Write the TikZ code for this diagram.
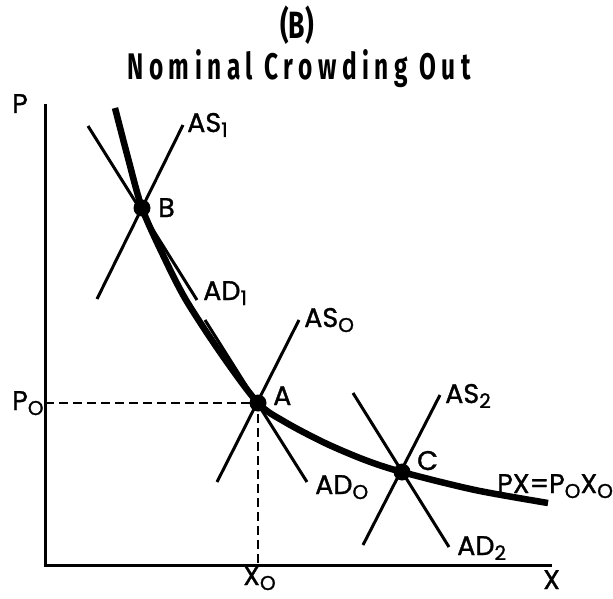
\documentclass[tikz,border=0pt]{standalone}
\usepackage{fontspec}
\setmainfont{Poppins}[FakeBold=1.2]
\newfontfamily\titlefont[FakeStretch=0.66,LetterSpace=15]{Fira Sans}
\newfontfamily\headfont[FakeStretch=0.7]{Fira Sans}
\newcommand\sbs[1]{\raisebox{-5pt}{\fontsize{20}{20}\selectfont #1}}
\begin{document}
\begin{tikzpicture}[x=1pt,y=-1pt,
  axisline/.style={line width=3pt},
  sched/.style={line width=3pt},
  pxcurve/.style={line width=6.5pt},
  guide/.style={line width=2.6pt, dash pattern=on 9pt off 5pt},
  dot/.style={circle, fill, inner sep=0pt, minimum size=17pt},
  lab/.style={anchor=base west, inner sep=0pt, font=\fontsize{27}{27}\selectfont},
  ttl/.style={anchor=base, inner sep=0pt, font=\titlefont\bfseries\fontsize{37}{37}\selectfont},
  hd/.style={anchor=base, inner sep=0pt, font=\headfont\bfseries\fontsize{38}{38}\selectfont}]
\useasboundingbox (0,0) rectangle (613,599);
% title
\node[hd] (t1) at (297,39) {(B)};
\node[ttl] (t2) at (299,80) {Nominal Crowding Out};
% axes
\coordinate (orig) at (45,565);
\coordinate (ytop) at (45,104);
\coordinate (xend) at (552,565);
\draw[axisline] (ytop) -- (orig) -- (xend);
% equilibrium points
\coordinate (B) at (142,208);
\coordinate (A) at (258,403);
\coordinate (C) at (402,472);
% schedule end points
\coordinate (as1a) at (97,299);  \coordinate (as1b) at (183,125);
\coordinate (ad1a) at (88,126);  \coordinate (ad1b) at (197,300);
\coordinate (as0a) at (217,482); \coordinate (as0b) at (299,320);
\coordinate (ad0a) at (205,320); \coordinate (ad0b) at (307,482);
\coordinate (as2a) at (363,545); \coordinate (as2b) at (440,395);
\coordinate (ad2a) at (353,393); \coordinate (ad2b) at (449,547);
\coordinate (pO) at (45,403);
\coordinate (xO) at (258,565);
% dashed guides
\draw[guide] (pO) -- (A) -- (xO);
% schedules
\draw[sched] (as1a) -- (as1b);
\draw[sched] (ad1a) -- (ad1b);
\draw[sched] (as0a) -- (as0b);
\draw[sched] (ad0a) -- (ad0b);
\draw[sched] (as2a) -- (as2b);
\draw[sched] (ad2a) -- (ad2b);
% rectangular hyperbola
\draw[pxcurve] plot[smooth, tension=0.5] coordinates {(115,108) (128,158) (142,208) (163,255) (186,300) (222,355) (258,403) (285,422) (325,443) (365,460) (402,472) (475,490) (548,503)};
% dots
\node[dot] (dB) at (B) {};
\node[dot] (dA) at (A) {};
\node[dot] (dC) at (C) {};
% labels
\node[lab] (lP) at (12,113) {P};
\node[lab] (lX) at (543,589) {X};
\node[lab] (lPO) at (12,410) {P\sbs{O}};
\node[lab] (lXO) at (243,585) {X\sbs{O}};
\node[lab] (lB) at (158,217) {B};
\node[lab] (lA) at (273,405) {A};
\node[lab] (lC) at (417,470) {C};
\node[lab] (lAS1) at (187,132) {AS\sbs{1}};
\node[lab] (lAD1) at (203,300) {AD\sbs{1}};
\node[lab] (lAS0) at (304,327) {AS\sbs{O}};
\node[lab] (lAD0) at (315,494) {AD\sbs{O}};
\node[lab] (lAS2) at (445,403) {AS\sbs{2}};
\node[lab] (lAD2) at (457,555) {AD\sbs{2}};
\node[lab] (lPX) at (497,493) {PX=P\sbs{O}X\sbs{O}};
\end{tikzpicture}
\end{document}
